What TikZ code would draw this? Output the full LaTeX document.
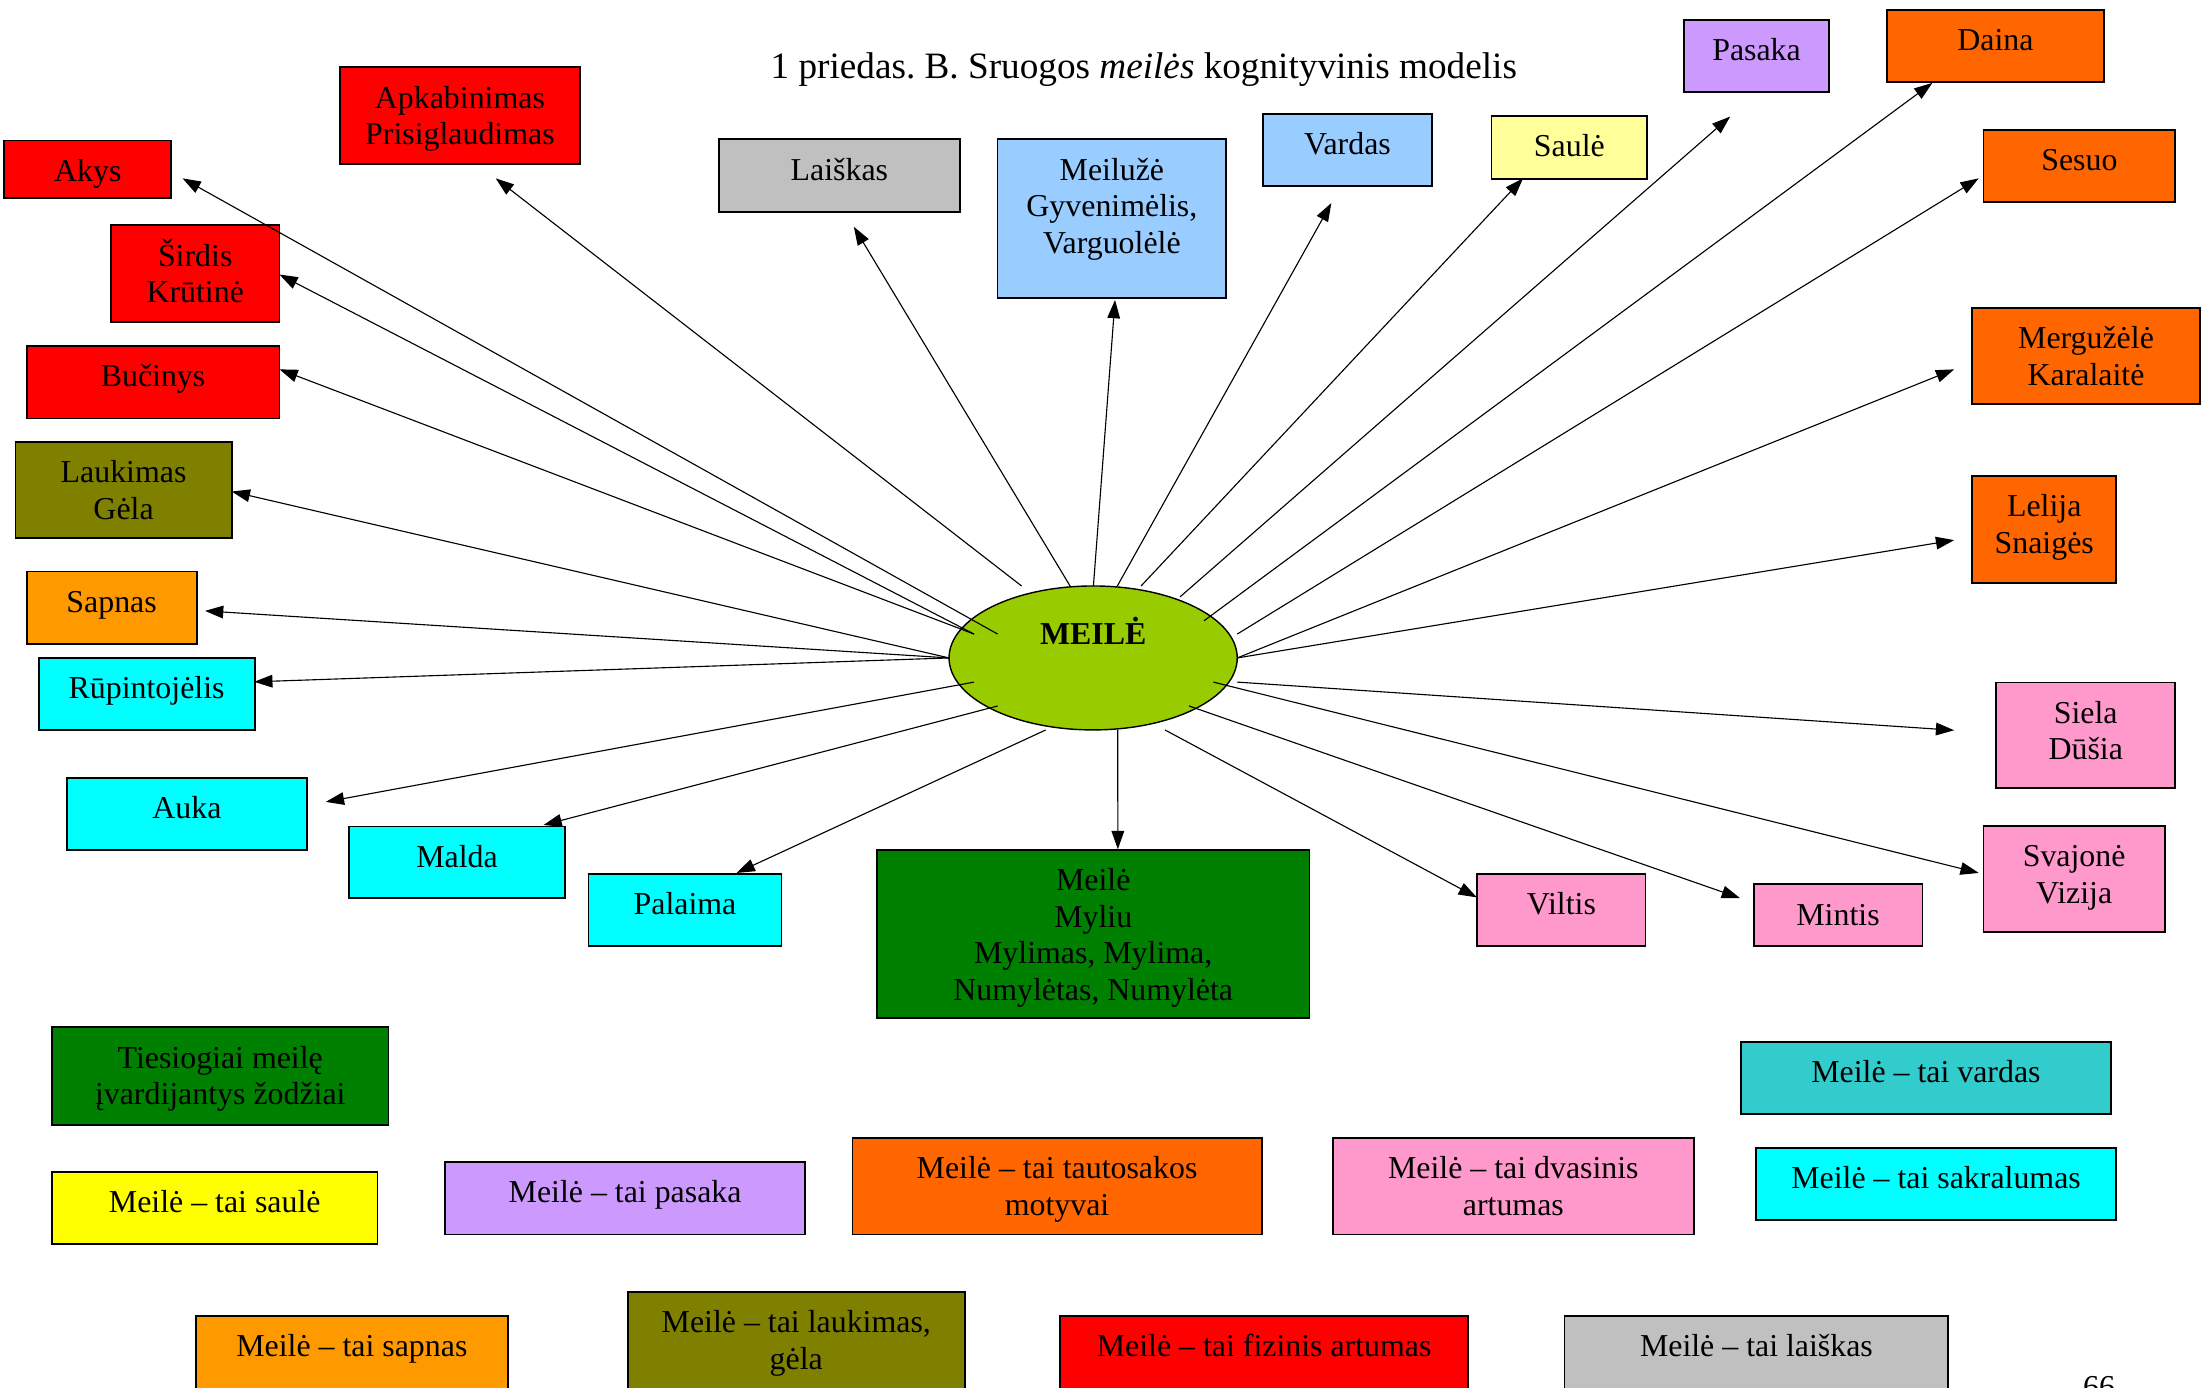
\documentclass[tikz,border=0pt]{standalone}
\usepackage{fontspec}
\setmainfont{Liberation Serif}
\usetikzlibrary{arrows.meta,shapes.geometric}
\frenchspacing
\definecolor{cRed}{HTML}{FF0000}
\definecolor{cOlive}{HTML}{808000}
\definecolor{cOrA}{HTML}{FF9900}
\definecolor{cOrB}{HTML}{FF6600}
\definecolor{cCyan}{HTML}{00FFFF}
\definecolor{cGreen}{HTML}{008000}
\definecolor{cGray}{HTML}{C0C0C0}
\definecolor{cLBlue}{HTML}{99CCFF}
\definecolor{cLYel}{HTML}{FFFF99}
\definecolor{cYel}{HTML}{FFFF00}
\definecolor{cLav}{HTML}{CC99FF}
\definecolor{cPink}{HTML}{FF99CC}
\definecolor{cTeal}{HTML}{33CCCC}
\definecolor{cLime}{HTML}{99CC00}
\newcommand\ml[1]{\begin{tabular}[t]{@{}c@{}}#1\end{tabular}}
\newcommand\tb[7]{%
  \node[boxst, fill=#6, minimum width={(#4-#2)*1pt}, minimum height={(#5-#3)*1pt}, anchor=north west] (#1) at (#2,#3) {};
  \node[txtst, anchor=base] (#1t) at ([yshift=-29pt]#1.north) {\ml{#7}};
}
\tikzset{
  boxst/.style={draw=black, line width=1.3pt, rectangle, inner sep=0pt, outer sep=0pt},
  txtst/.style={inner sep=0pt, font=\fontsize{22.7}{26}\selectfont},
  arr/.style={draw=black, line width=0.8pt, -{Triangle[length=13pt,width=9pt]}},
}
\begin{document}
\begin{tikzpicture}[x=1pt,y=-1pt]
\useasboundingbox (0,0) rectangle (1568,988);
% title
\node[inner sep=0pt, anchor=base, font=\fontsize{26.5}{30}\selectfont] (title) at (814.5,56) {1 priedas. B. Sruogos \textit{meilės} kognityvinis modelis};
% boxes
\tb{akys}{3}{100}{122}{141}{cRed}{Akys}
\tb{apk}{242}{48}{413}{117}{cRed}{Apkabinimas\\Prisiglaudimas}
\tb{sird}{79}{160.5}{199}{229.5}{cRed}{Širdis\\Krūtinė}
\tb{buc}{19}{246.5}{199}{298}{cRed}{Bučinys}
\tb{lauk}{11}{314.7}{165}{383}{cOlive}{Laukimas\\Gėla}
\tb{sapn}{19}{407}{140}{458.4}{cOrA}{Sapnas}
\tb{rup}{27.5}{468.3}{181.3}{519.7}{cCyan}{Rūpintojėlis}
\tb{auka}{47.5}{554}{218.8}{605.3}{cCyan}{Auka}
\tb{malda}{248.3}{588.5}{402.6}{639.7}{cCyan}{Malda}
\tb{pal}{419}{622.5}{556.5}{673.8}{cCyan}{Palaima}
\tb{mg}{624.5}{605.3}{932.4}{724.7}{cGreen}{Meilė\\Myliu\\Mylimas, Mylima,\\Numylėtas, Numylėta}
\tb{lais}{512}{99.2}{683.4}{151}{cGray}{Laiškas}
\tb{meil}{710.3}{99.2}{873.2}{212.4}{cLBlue}{Meilužė\\Gyvenimėlis,\\Varguolėlė}
\tb{vard}{899.4}{81}{1019.5}{132.2}{cLBlue}{Vardas}
\tb{saul}{1062}{82.6}{1173}{127.2}{cLYel}{Saulė}
\tb{pas}{1199.3}{14.3}{1302.3}{65.8}{cLav}{Pasaka}
\tb{daina}{1343.8}{7}{1498}{58.4}{cOrB}{Daina}
\tb{ses}{1412.4}{92.5}{1549}{144}{cOrB}{Sesuo}
\tb{merg}{1404.3}{219.3}{1566.5}{287.7}{cOrB}{Mergužėlė\\Karalaitė}
\tb{lel}{1404.3}{338.8}{1507}{414.9}{cOrB}{Lelija\\Snaigės}
\tb{siela}{1421.4}{486}{1549}{561.3}{cPink}{Siela\\Dūšia}
\tb{svaj}{1412.4}{588.2}{1541.5}{663.5}{cPink}{Svajonė\\Vizija}
\tb{vilt}{1052}{622.5}{1171.7}{673.8}{cPink}{Viltis}
\tb{mint}{1248.7}{629.7}{1368.9}{673.8}{cPink}{Mintis}
% legend
\tb{lg}{37}{731.5}{276.7}{800.9}{cGreen}{Tiesiogiai meilę\\įvardijantys žodžiai}
\tb{lsaul}{37}{834.6}{268.8}{885.9}{cYel}{Meilė – tai saulė}
\tb{lpas}{316.7}{827.5}{573.5}{879}{cLav}{Meilė – tai pasaka}
\tb{ltaut}{607}{810.4}{898.4}{879}{cOrB}{Meilė – tai tautosakos\\motyvai}
\tb{ldvas}{949}{810.4}{1206.2}{879}{cPink}{Meilė – tai dvasinis\\artumas}
\tb{lvard}{1239.8}{741.9}{1503}{793.4}{cTeal}{Meilė – tai vardas}
\tb{lsakr}{1250.2}{817.5}{1507}{869}{cCyan}{Meilė – tai sakralumas}
\tb{lsapn}{139.4}{937.2}{361.7}{1000}{cOrA}{Meilė – tai sapnas}
\tb{llauk}{447}{920}{687}{1000}{cOlive}{Meilė – tai laukimas,\\gėla}
\tb{lfiz}{754.8}{937.2}{1045.5}{1000}{cRed}{Meilė – tai fizinis artumas}
\tb{llais}{1114}{937.2}{1387.4}{1000}{cGray}{Meilė – tai laiškas}
% page number
\node[txtst, anchor=base] (pnum) at (1494.7,995) {66};
% central ellipse
\node[ellipse, draw=black, line width=1pt, fill=cLime, minimum width=205.2pt, minimum height=102.5pt, inner sep=0pt] (meile) at (778.4,468.5) {};
\node[txtst, anchor=base, font=\fontsize{22.7}{26}\selectfont\bfseries] (meilet) at (778.4,459) {MEILĖ};
% start points
\coordinate (s-akys) at (710.4,451.5);
\coordinate (s-sird) at (693.6,451.5);
\coordinate (s-buc) at (693.6,451.5);
\coordinate (s-apk) at (727.5,417.3);
\coordinate (s-lais) at (762,417.3);
\coordinate (s-lauk) at (675.8,468.5);
\coordinate (s-sapn) at (675.8,468.5);
\coordinate (s-rup) at (675.8,468.5);
\coordinate (s-auka) at (693.6,485.7);
\coordinate (s-malda) at (710.4,502.7);
\coordinate (s-pal) at (744.6,519.8);
\coordinate (s-mg) at (795.9,519.8);
\coordinate (s-vilt) at (829.6,519.8);
\coordinate (s-mint) at (846.7,502.7);
\coordinate (s-svaj) at (864,485.7);
\coordinate (s-siela) at (881,485.7);
\coordinate (s-merg) at (881,468.5);
\coordinate (s-lel) at (881,468.5);
\coordinate (s-ses) at (881,451.5);
\coordinate (s-daina) at (857.4,442);
\coordinate (s-pas) at (840.3,425);
\coordinate (s-saul) at (812.5,417.3);
\coordinate (s-vard) at (795.6,417.3);
\coordinate (s-meil) at (778.6,417.3);
% tips
\coordinate (t-akys) at (130,127);
\coordinate (t-sird) at (199,195.5);
\coordinate (t-buc) at (199,263);
\coordinate (t-apk) at (353,127);
\coordinate (t-lais) at (608,161.5);
\coordinate (t-lauk) at (165,350);
\coordinate (t-sapn) at (146,435);
\coordinate (t-rup) at (181,485.5);
\coordinate (t-meil) at (794,213.6);
\coordinate (t-vard) at (948,144.6);
\coordinate (t-saul) at (1084.5,127);
\coordinate (t-pas) at (1232,83);
\coordinate (t-daina) at (1376,59);
\coordinate (t-ses) at (1409,127);
\coordinate (t-merg) at (1391.5,263);
\coordinate (t-lel) at (1391.5,384.6);
\coordinate (t-auka) at (232,571);
\coordinate (t-malda) at (387,587.5);
\coordinate (t-pal) at (524.5,621.6);
\coordinate (t-mg) at (796,604.7);
\coordinate (t-vilt) at (1051.6,639);
\coordinate (t-mint) at (1239,639.5);
\coordinate (t-svaj) at (1409,621.6);
\coordinate (t-siela) at (1391.5,520);
\foreach \n in {akys,sird,buc,apk,lais,lauk,sapn,rup,meil,vard,saul,pas,daina,ses,merg,lel,auka,malda,pal,mg,vilt,mint,svaj,siela}
  \draw[arr] (s-\n) -- (t-\n);
\end{tikzpicture}
\end{document}
